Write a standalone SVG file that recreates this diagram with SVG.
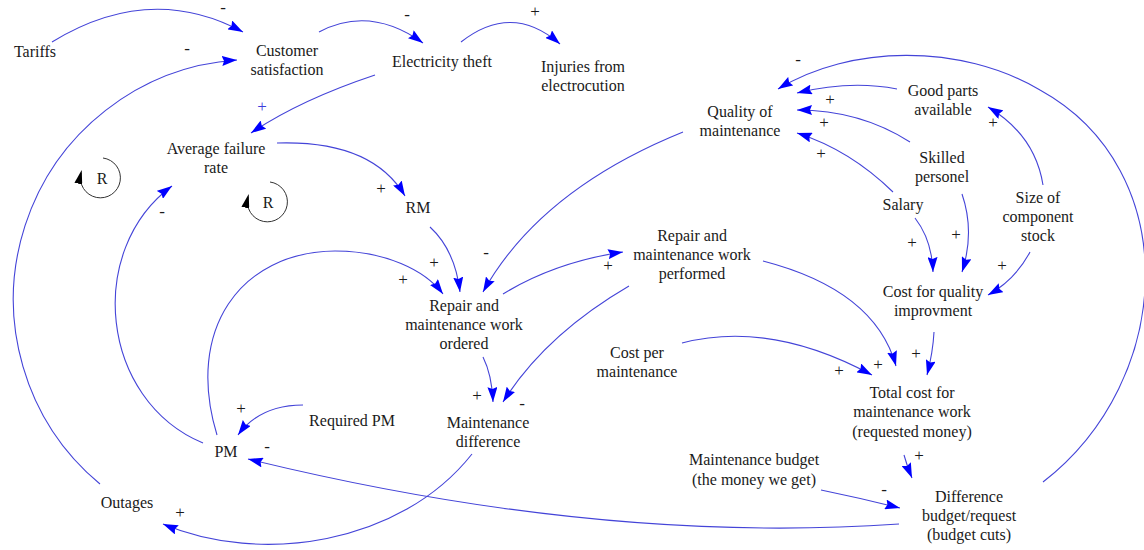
<svg xmlns="http://www.w3.org/2000/svg" width="1144" height="550" viewBox="0 0 1144 550" font-family="'Liberation Serif', 'Times New Roman', serif">
  <style>
    .lbl { font-family: "Liberation Serif", "Times New Roman", serif; font-size: 16px; fill: #1a1a1a; text-anchor: middle; }
    .sgn { font-family: "Liberation Serif", "Times New Roman", serif; font-size: 17px; fill: #1a1a1a; text-anchor: middle; }
    .sgn-b { fill: #3c3cdc; }
    .link { fill: none; stroke: #4444d8; stroke-width: 1.1; marker-end: url(#ah); }
    .loop { fill: none; stroke: #333; stroke-width: 1; marker-end: url(#ahk); }
  </style>
  <defs>
    <marker id="ah" markerUnits="userSpaceOnUse" markerWidth="15" markerHeight="10" viewBox="0 0 15 10" refX="15" refY="5" orient="auto">
      <path d="M0,0 L15,5 L0,10 L2,5 Z" fill="#0000ff"/>
    </marker>
    <marker id="ahk" markerUnits="userSpaceOnUse" markerWidth="14" markerHeight="8" viewBox="0 0 14 8" refX="11" refY="4" orient="auto">
      <path d="M0,0 L14,4 L0,8 Z" fill="#000"/>
    </marker>
  </defs>

  <rect width="1144" height="550" fill="#fff"/>

  <!-- causal links -->
  <g id="connectors">
    <path class="link" d="M52,42 Q150,-18 243,32"/>
    <path class="link" d="M100,484 A240,240 0 0 1 237,60"/>
    <path class="link" d="M319,32 Q370,5 423,43"/>
    <path class="link" d="M461,42 Q512,2 560,44"/>
    <path class="link" d="M375,75 Q300,100 251,133"/>
    <path class="link" d="M277,143 Q372,140 405,196"/>
    <path class="link" d="M430,227 Q455,250 460,292"/>
    <path class="link" d="M217,435 C185,330 240,252 335,251 C385,251 425,270 443,294"/>
    <path class="link" d="M683,132 Q540,190 483,292"/>
    <path class="link" d="M503,294 Q555,262 623,252"/>
    <path class="link" d="M483,357 Q492,375 493,402"/>
    <path class="link" d="M629,286 Q545,335 503,402"/>
    <path class="link" d="M763,261 Q875,290 896,366"/>
    <path class="link" d="M682,343 Q770,320 872,375"/>
    <path class="link" d="M934,332 Q933,352 927,375"/>
    <path class="link" d="M915,218 Q932,240 933,272"/>
    <path class="link" d="M962,194 Q975,232 962,272"/>
    <path class="link" d="M1030,252 Q1015,280 988,295"/>
    <path class="link" d="M1043,185 Q1035,135 988,107"/>
    <path class="link" d="M897,89 Q850,80 797,93"/>
    <path class="link" d="M910,142 Q860,110 797,110"/>
    <path class="link" d="M893,192 Q850,150 797,133"/>
    <path class="link" d="M1043,482 C1175,380 1185,170 1040,90 C960,43 850,45 778,89"/>
    <path class="link" d="M821,490 Q860,498 900,508"/>
    <path class="link" d="M904,455 Q907,466 912,478"/>
    <path class="link" d="M899,524 Q600,545 248,459"/>
    <path class="link" d="M472,454 C400,545 260,565 163,524"/>
    <path class="link" d="M303,405 Q260,405 238,435"/>
    <path class="link" d="M203,443 C100,400 85,250 172,186"/>
  </g>

  <!-- polarity signs -->
  <g id="signs">
    <text class="sgn" x="223" y="13">-</text>
    <text class="sgn" x="187" y="54">-</text>
    <text class="sgn" x="407" y="20">-</text>
    <text class="sgn" x="535" y="17">+</text>
    <text class="sgn sgn-b" x="262" y="112">+</text>
    <text class="sgn" x="381" y="194">+</text>
    <text class="sgn" x="434" y="268">+</text>
    <text class="sgn" x="403" y="285">+</text>
    <text class="sgn" x="486" y="258">-</text>
    <text class="sgn" x="608" y="271">+</text>
    <text class="sgn" x="477" y="401">+</text>
    <text class="sgn" x="522" y="409">-</text>
    <text class="sgn" x="878" y="370">+</text>
    <text class="sgn" x="839" y="376">+</text>
    <text class="sgn" x="916" y="359">+</text>
    <text class="sgn" x="912" y="248">+</text>
    <text class="sgn" x="956" y="240">+</text>
    <text class="sgn" x="1002" y="271">+</text>
    <text class="sgn" x="993" y="128">+</text>
    <text class="sgn" x="830" y="105">+</text>
    <text class="sgn" x="824" y="128">+</text>
    <text class="sgn" x="821" y="159">+</text>
    <text class="sgn" x="798" y="65">-</text>
    <text class="sgn" x="884" y="495">-</text>
    <text class="sgn" x="919" y="461">+</text>
    <text class="sgn" x="267" y="452">-</text>
    <text class="sgn" x="180" y="518">+</text>
    <text class="sgn" x="241" y="414">+</text>
    <text class="sgn" x="162" y="217">-</text>
  </g>

  <!-- reinforcing loop markers -->
  <g id="loop-r1">
    <path class="loop" d="M103,158 A20,20 0 1 1 81,173"/>
    <text class="lbl" x="102" y="184">R</text>
  </g>
  <g id="loop-r2">
    <path class="loop" d="M270,182 A20,20 0 1 1 248,197"/>
    <text class="lbl" x="268" y="208">R</text>
  </g>

  <!-- variables -->
  <g id="tariffs"><text class="lbl" x="35" y="57">Tariffs</text></g>
  <g id="customer-satisfaction"><text class="lbl" x="287" y="56">Customer</text><text class="lbl" x="287" y="75">satisfaction</text></g>
  <g id="electricity-theft"><text class="lbl" x="442" y="67">Electricity theft</text></g>
  <g id="injuries"><text class="lbl" x="583" y="72">Injuries from</text><text class="lbl" x="583" y="91">electrocution</text></g>
  <g id="quality-of-maintenance"><text class="lbl" x="740" y="117">Quality of</text><text class="lbl" x="740" y="136">maintenance</text></g>
  <g id="good-parts"><text class="lbl" x="943" y="96">Good parts</text><text class="lbl" x="943" y="115">available</text></g>
  <g id="skilled-personel"><text class="lbl" x="942" y="163">Skilled</text><text class="lbl" x="942" y="182">personel</text></g>
  <g id="salary"><text class="lbl" x="903" y="210">Salary</text></g>
  <g id="component-stock"><text class="lbl" x="1038" y="203">Size of</text><text class="lbl" x="1038" y="222">component</text><text class="lbl" x="1038" y="241">stock</text></g>
  <g id="average-failure-rate"><text class="lbl" x="216" y="154">Average failure</text><text class="lbl" x="216" y="173">rate</text></g>
  <g id="rm"><text class="lbl" x="418" y="213">RM</text></g>
  <g id="work-ordered"><text class="lbl" x="464" y="311">Repair and</text><text class="lbl" x="464" y="330">maintenance work</text><text class="lbl" x="464" y="349">ordered</text></g>
  <g id="work-performed"><text class="lbl" x="692" y="241">Repair and</text><text class="lbl" x="692" y="260">maintenance work</text><text class="lbl" x="692" y="279">performed</text></g>
  <g id="cost-per-maintenance"><text class="lbl" x="637" y="358">Cost per</text><text class="lbl" x="637" y="377">maintenance</text></g>
  <g id="maintenance-difference"><text class="lbl" x="488" y="428">Maintenance</text><text class="lbl" x="488" y="447">difference</text></g>
  <g id="cost-quality"><text class="lbl" x="933" y="297">Cost for quality</text><text class="lbl" x="933" y="316">improvment</text></g>
  <g id="total-cost"><text class="lbl" x="912" y="398">Total cost for</text><text class="lbl" x="912" y="417">maintenance work</text><text class="lbl" x="912" y="437">(requested money)</text></g>
  <g id="required-pm"><text class="lbl" x="352" y="426">Required PM</text></g>
  <g id="pm"><text class="lbl" x="226" y="457">PM</text></g>
  <g id="outages"><text class="lbl" x="127" y="508">Outages</text></g>
  <g id="maintenance-budget"><text class="lbl" x="754" y="465">Maintenance budget</text><text class="lbl" x="754" y="485">(the money we get)</text></g>
  <g id="budget-difference"><text class="lbl" x="969" y="502">Difference</text><text class="lbl" x="969" y="521">budget/request</text><text class="lbl" x="969" y="540">(budget cuts)</text></g>
</svg>
